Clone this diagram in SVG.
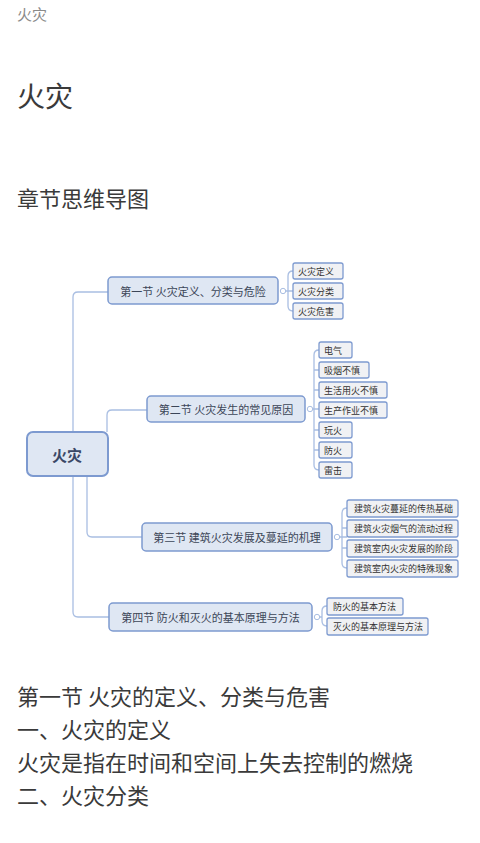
<svg xmlns="http://www.w3.org/2000/svg" width="480" height="843" viewBox="0 0 480 843">
<style>
.t{font-family:"Noto Sans CJK SC","Noto Sans",sans-serif;fill:#3a3a3a}
.main{fill:#dfe7f3;stroke:#7d9ad0;stroke-width:1.5}
.mt{font-family:"Noto Sans CJK SC",sans-serif;font-size:11px;fill:#3c4658;text-anchor:middle;dominant-baseline:central}
.leaf{fill:#f0f1f4;stroke:#7d9ad0;stroke-width:1.3}
.lt{font-family:"Noto Sans CJK SC",sans-serif;font-size:9px;fill:#333;dominant-baseline:central}
.ln{fill:none;stroke:#a9bee2;stroke-width:1.3}
.dot{fill:#fff;stroke:#a9bee2;stroke-width:1}
</style>
<rect width="480" height="843" fill="#fff"/>
<text class="t" x="17" y="20" font-size="15" style="fill:#8a8a8a">火灾</text>
<text class="t" x="17" y="107" font-size="28">火灾</text>
<text class="t" x="17" y="207" font-size="22">章节思维导图</text>

<g id="connectors">
<path class="ln" d="M73,432 V297 Q73,292 78,292 H108"/>
<path class="ln" d="M73,476 V612 Q73,617 78,617 H109"/>
<path class="ln" d="M107,432 V415 Q107,410 112,410 H147"/>
<path class="ln" d="M87,476 V532 Q87,537 92,537 H142"/>
<path class="ln" d="M286,291 H293 M293,271 Q288,271 288,276 V306 Q288,311 293,311"/>
<path class="ln" d="M313,409 H319 M319,350 Q314,350 314,355 V465 Q314,470 319,470 M314,370 H319 M314,390 H319 M314,430 H319 M314,450 H319"/>
<path class="ln" d="M340,537 H347 M347,508 Q342,508 342,513 V563 Q342,568 347,568 M342,528 H347 M342,548 H347"/>
<path class="ln" d="M320,617 H322 M327,606 Q322,606 322,611 V621 Q322,626 327,626"/>
<circle class="dot" cx="283" cy="291" r="2.7"/>
<circle class="dot" cx="310" cy="409" r="2.7"/>
<circle class="dot" cx="337" cy="537" r="2.7"/>
<circle class="dot" cx="317" cy="617" r="2.7"/>
</g>

<g id="root">
<rect x="27" y="432" width="81" height="44" rx="6" class="main" style="stroke-width:2"/>
<text x="67" y="454" class="mt" style="font-size:15px;font-weight:bold;fill:#3a4866">火灾</text>
</g>

<g id="n1">
<rect x="108" y="277" width="170" height="27" rx="4" class="main"/>
<text x="193" y="290.5" class="mt">第一节 火灾定义、分类与危险</text>
</g>
<g id="n1a"><rect x="293" y="263" width="50" height="16" rx="2" class="leaf"/><text x="298" y="271" class="lt">火灾定义</text></g>
<g id="n1b"><rect x="293" y="283" width="50" height="16" rx="2" class="leaf"/><text x="298" y="291" class="lt">火灾分类</text></g>
<g id="n1c"><rect x="293" y="303" width="50" height="16" rx="2" class="leaf"/><text x="298" y="311" class="lt">火灾危害</text></g>

<g id="n2">
<rect x="147" y="396" width="158" height="26" rx="4" class="main"/>
<text x="226" y="409" class="mt">第二节 火灾发生的常见原因</text>
</g>
<g id="n2a"><rect x="319" y="342" width="33" height="16" rx="2" class="leaf"/><text x="324" y="350" class="lt">电气</text></g>
<g id="n2b"><rect x="319" y="362" width="50" height="16" rx="2" class="leaf"/><text x="324" y="370" class="lt">吸烟不慎</text></g>
<g id="n2c"><rect x="319" y="382" width="68" height="16" rx="2" class="leaf"/><text x="324" y="390" class="lt">生活用火不慎</text></g>
<g id="n2d"><rect x="319" y="402" width="68" height="16" rx="2" class="leaf"/><text x="324" y="410" class="lt">生产作业不慎</text></g>
<g id="n2e"><rect x="319" y="422" width="33" height="16" rx="2" class="leaf"/><text x="324" y="430" class="lt">玩火</text></g>
<g id="n2f"><rect x="319" y="442" width="33" height="16" rx="2" class="leaf"/><text x="324" y="450" class="lt">防火</text></g>
<g id="n2g"><rect x="319" y="462" width="33" height="16" rx="2" class="leaf"/><text x="324" y="470" class="lt">雷击</text></g>

<g id="n3">
<rect x="142" y="523" width="190" height="28" rx="4" class="main"/>
<text x="237" y="537" class="mt">第三节 建筑火灾发展及蔓延的机理</text>
</g>
<g id="n3a"><rect x="347" y="500" width="111" height="17" rx="2" class="leaf"/><text x="354" y="508.5" class="lt">建筑火灾蔓延的传热基础</text></g>
<g id="n3b"><rect x="347" y="520" width="111" height="17" rx="2" class="leaf"/><text x="354" y="528.5" class="lt">建筑火灾烟气的流动过程</text></g>
<g id="n3c"><rect x="347" y="540" width="111" height="17" rx="2" class="leaf"/><text x="354" y="548.5" class="lt">建筑室内火灾发展的阶段</text></g>
<g id="n3d"><rect x="347" y="560" width="111" height="17" rx="2" class="leaf"/><text x="354" y="568.5" class="lt">建筑室内火灾的特殊现象</text></g>

<g id="n4">
<rect x="109" y="603" width="203" height="28" rx="4" class="main"/>
<text x="210.5" y="617" class="mt">第四节 防火和灭火的基本原理与方法</text>
</g>
<g id="n4a"><rect x="327" y="598" width="76" height="17" rx="2" class="leaf"/><text x="333" y="606.5" class="lt">防火的基本方法</text></g>
<g id="n4b"><rect x="327" y="618" width="101" height="17" rx="2" class="leaf"/><text x="333" y="626.5" class="lt">灭火的基本原理与方法</text></g>

<text class="t" x="17" y="705" font-size="22">第一节 火灾的定义、分类与危害</text>
<text class="t" x="17" y="738" font-size="22">一、火灾的定义</text>
<text class="t" x="17" y="771" font-size="22">火灾是指在时间和空间上失去控制的燃烧</text>
<text class="t" x="17" y="804" font-size="22">二、火灾分类</text>
</svg>
